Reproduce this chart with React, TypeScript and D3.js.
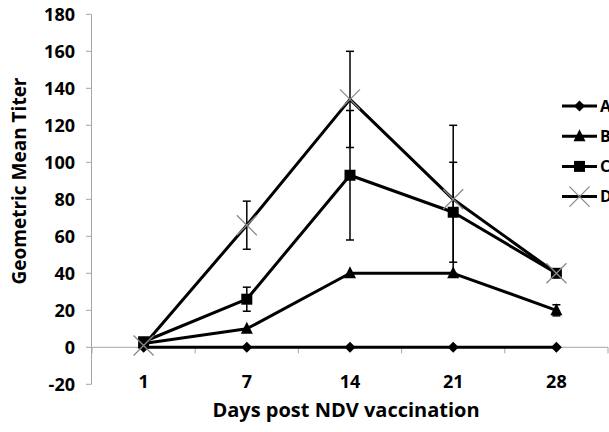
import React from "react";
import * as d3 from "d3";

const days = ["1", "7", "14", "21", "28"];
const seriesNames = ["A", "B", "C", "D"];
const valuesA = [0, 0, 0, 0, 0];
const valuesB = [2, 10, 40, 40, 20];
const valuesC = [3, 26, 93, 73, 40];
const valuesD = [1, 66, 134, 80, 40];
const errorsA = [0, 0, 0, 0, 0];
const errorsB = [0, 0, 0, 0, 3];
const errorsC = [0, 6.5, 35, 27, 0];
const errorsD = [0, 13, 26, 40, 0];
const yTicks = [-20, 0, 20, 40, 60, 80, 100, 120, 140, 160, 180];

const W = 609;
const H = 432;
const FONT = "'Open Sans', sans-serif";

export default function App() {
  const x = d3.scaleBand<string>().domain(days).range([92, 608]).padding(0);
  const y = d3.scaleLinear().domain([-20, 180]).range([384.3, 14.3]);
  const cx = (d: string) => (x(d) as number) + x.bandwidth() / 2;

  const all = [valuesA, valuesB, valuesC, valuesD];
  const errs = [errorsA, errorsB, errorsC, errorsD];
  const line = d3
    .line<number>()
    .x((_, i) => cx(days[i]))
    .y((v) => y(v));

  const marker = (s: number, px: number, py: number, key: string) => {
    if (s === 0) {
      const r = 5.5;
      return (
        <path key={key} d={`M${px},${py - r}L${px + r},${py}L${px},${py + r}L${px - r},${py}Z`} fill="#000" />
      );
    }
    if (s === 1) {
      return (
        <path key={key} d={`M${px},${py - 7}L${px + 6},${py + 5}L${px - 6},${py + 5}Z`} fill="#000" />
      );
    }
    if (s === 2) {
      return <rect key={key} x={px - 5.5} y={py - 5.5} width={11} height={11} fill="#000" />;
    }
    const r = 10;
    return (
      <path
        key={key}
        d={`M${px - r},${py - r}L${px + r},${py + r}M${px + r},${py - r}L${px - r},${py + r}`}
        stroke="#8a8a8a"
        strokeWidth={1.3}
        fill="none"
      />
    );
  };

  const zeroY = y(0);
  const boundaries = days.map((d) => x(d) as number).concat([608]);

  return (
    <svg width={W} height={H} style={{ position: "absolute", left: 0, top: 0, background: "#fff" }}>
      <rect width={W} height={H} fill="#fff" />
      {/* y axis */}
      <line x1={91.5} x2={91.5} y1={y(180)} y2={y(-20)} stroke="#a6a6a6" strokeWidth={1} />
      {yTicks.map((t) => (
        <g key={t}>
          <line x1={86} x2={91.5} y1={y(t)} y2={y(t)} stroke="#a6a6a6" />
          <text x={75} y={y(t)} dy="0.35em" textAnchor="end" fontFamily={FONT} fontWeight="bold" fontSize={18}>
            {t}
          </text>
        </g>
      ))}
      {/* x axis */}
      <line x1={91.5} x2={608} y1={zeroY} y2={zeroY} stroke="#a6a6a6" />
      {boundaries.map((b, i) => (
        <line key={i} x1={b} x2={b} y1={zeroY} y2={zeroY + 6} stroke="#a6a6a6" />
      ))}
      {days.map((d) => (
        <text key={d} x={cx(d)} y={388} textAnchor="middle" fontFamily={FONT} fontWeight="bold" fontSize={18}>
          {d}
        </text>
      ))}
      {/* titles */}
      <text
        transform={`translate(26,181) rotate(-90)`}
        textAnchor="middle"
        fontFamily={FONT}
        fontWeight="bold"
        fontSize={19}
      >
        Geometric Mean Titer
      </text>
      <text x={346} y={417} textAnchor="middle" fontFamily={FONT} fontWeight="bold" fontSize={20}>
        Days post NDV vaccination
      </text>
      {/* error bars */}
      {errs.map((es, s) =>
        es.map((e, i) =>
          e > 0 ? (
            <g key={`e${s}-${i}`} stroke="#000" strokeWidth={1.5}>
              <line x1={cx(days[i])} x2={cx(days[i])} y1={y(all[s][i] + e)} y2={y(all[s][i] - e)} />
              <line x1={cx(days[i]) - 4} x2={cx(days[i]) + 4} y1={y(all[s][i] + e)} y2={y(all[s][i] + e)} />
              <line x1={cx(days[i]) - 4} x2={cx(days[i]) + 4} y1={y(all[s][i] - e)} y2={y(all[s][i] - e)} />
            </g>
          ) : null
        )
      )}
      {/* lines and markers */}
      {all.map((vals, s) => (
        <g key={`s${s}`}>
          <path d={line(vals) || ""} fill="none" stroke="#000" strokeWidth={3} strokeLinejoin="round" />
          {vals.map((v, i) => marker(s, cx(days[i]), y(v), `m${s}-${i}`))}
        </g>
      ))}
      {/* legend */}
      {seriesNames.map((n, s) => {
        const ly = 106 + s * 30.2;
        return (
          <g key={n}>
            <line x1={562} x2={597} y1={ly} y2={ly} stroke="#000" strokeWidth={3} />
            {marker(s, 579.5, ly, `lg${s}`)}
            <text x={600} y={ly} dy="0.35em" fontFamily={FONT} fontWeight="bold" fontSize={16}>
              {n}
            </text>
          </g>
        );
      })}
    </svg>
  );
}
